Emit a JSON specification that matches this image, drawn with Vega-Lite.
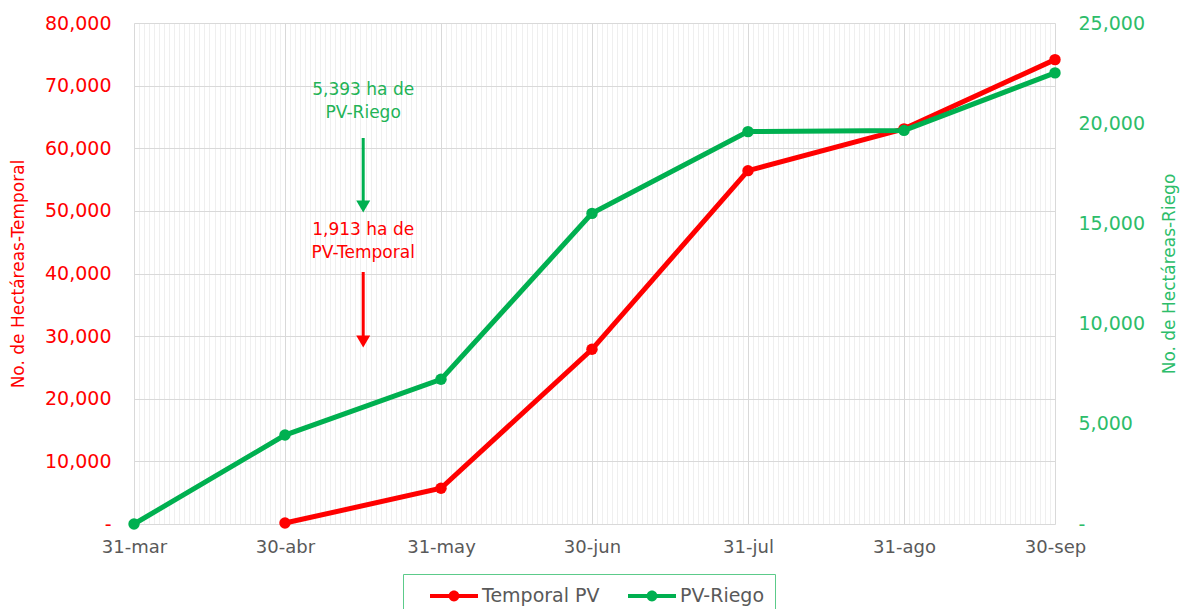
{
  "$schema": "https://vega.github.io/schema/vega-lite/v6.json",
  "width": 921,
  "height": 501,
  "autosize": "none",
  "padding": {"left": 134, "top": 23, "right": 126, "bottom": 85},
  "background": "white",
  "config": {"font": "DejaVu Sans", "view": {"stroke": null}},
  "datasets": {
    "temporal": [
      {"date": "2023-04-30T00:00", "value": 150},
      {"date": "2023-05-31T00:00", "value": 5700},
      {"date": "2023-06-30T00:00", "value": 27900},
      {"date": "2023-07-31T00:00", "value": 56420},
      {"date": "2023-08-31T00:00", "value": 63100},
      {"date": "2023-09-30T00:00", "value": 74150}
    ],
    "riego": [
      {"date": "2023-03-31T00:00", "value": 0},
      {"date": "2023-04-30T00:00", "value": 4440},
      {"date": "2023-05-31T00:00", "value": 7220},
      {"date": "2023-06-30T00:00", "value": 15500},
      {"date": "2023-07-31T00:00", "value": 19580},
      {"date": "2023-08-31T00:00", "value": 19640},
      {"date": "2023-09-30T00:00", "value": 22510}
    ],
    "notes": [
      {"series": "PV-Riego", "date": "2023-05-15T13:00", "value": 69300, "label": "5,393 ha de"},
      {"series": "PV-Riego", "date": "2023-05-15T13:00", "value": 65630, "label": "PV-Riego"},
      {"series": "Temporal PV", "date": "2023-05-15T13:00", "value": 46950, "label": "1,913 ha de"},
      {"series": "Temporal PV", "date": "2023-05-15T13:00", "value": 43270, "label": "PV-Temporal"}
    ],
    "arrows": [
      {"series": "PV-Riego", "date": "2023-05-15T13:00", "start": 61640, "end": 50700},
      {"series": "Temporal PV", "date": "2023-05-15T13:00", "start": 40240, "end": 29140}
    ]
  },
  "layer": [
    {
      "layer": [
        {
          "data": {"name": "temporal"},
          "mark": {"type": "line", "strokeWidth": 5, "point": {"size": 130, "filled": true}},
          "encoding": {
            "x": {
              "field": "date", "type": "temporal", "title": null,
              "scale": {"domain": [{"year": 2023, "month": 3, "date": 31}, {"year": 2023, "month": 9, "date": 30}]},
              "axis": {"tickCount": {"interval": "day", "step": 1}, "labels": false, "ticks": false, "domain": false, "grid": true, "gridColor": "#efefef", "gridWidth": 1, "orient": "bottom"}
            },
            "y": {
              "field": "value", "type": "quantitative", "title": "No. de Hectáreas-Temporal",
              "scale": {"domain": [0, 80000]},
              "axis": {"orient": "left", "values": [0, 10000, 20000, 30000, 40000, 50000, 60000, 70000, 80000], "format": ",.0f", "labelExpr": "datum.value == 0 ? '-\u00a0\u00a0' : datum.label", "labelColor": "#ff0000", "labelFontSize": 19, "labelPadding": 23, "ticks": false, "domain": false, "grid": true, "gridColor": "#d9d9d9", "titleColor": "#ff0000", "titleFontSize": 17, "titleFontWeight": "normal", "titlePadding": 17}
            },
            "color": {
              "datum": "Temporal PV", "type": "nominal",
              "scale": {"domain": ["Temporal PV", "PV-Riego"], "range": ["#ff0000", "#00b050"]},
              "legend": {
                "orient": "none", "legendX": 269, "legendY": 551, "direction": "horizontal", "title": null,
                "symbolType": "M-2,-0.16L2,-0.16L2,0.16L-2,0.16Z M0.45,0A0.45,0.45 0 1,1 -0.45,0A0.45,0.45 0 1,1 0.45,0Z",
                "symbolSize": 576, "symbolStrokeWidth": 0, "symbolOffset": 29,
                "labelFontSize": 19, "labelColor": "#595959", "labelOffset": 16,
                "strokeColor": "#5ccb8a", "padding": 10, "columnPadding": 11,
                "encode": {"symbols": {"update": {"fill": {"scale": "color", "field": "value"}, "fillOpacity": {"value": 1}, "strokeWidth": {"value": 0}}}}
              }
            }
          }
        },
        {
          "data": {"name": "notes"},
          "transform": [{"filter": "datum.series == 'PV-Riego'"}],
          "mark": {"type": "text", "color": "#22b356", "fontSize": 17, "align": "center", "baseline": "middle"},
          "encoding": {
            "x": {"field": "date", "type": "temporal", "title": null},
            "y": {"field": "value", "type": "quantitative", "title": "No. de Hectáreas-Temporal"},
            "text": {"field": "label"}
          }
        },
        {
          "data": {"name": "notes"},
          "transform": [{"filter": "datum.series == 'Temporal PV'"}],
          "mark": {"type": "text", "color": "#ff0000", "fontSize": 17, "align": "center", "baseline": "middle"},
          "encoding": {
            "x": {"field": "date", "type": "temporal", "title": null},
            "y": {"field": "value", "type": "quantitative", "title": "No. de Hectáreas-Temporal"},
            "text": {"field": "label"}
          }
        },
        {
          "data": {"name": "arrows"},
          "transform": [{"filter": "datum.series == 'PV-Riego'"}],
          "mark": {"type": "rule", "color": "#00b050", "strokeWidth": 3},
          "encoding": {
            "x": {"field": "date", "type": "temporal", "title": null},
            "y": {"field": "start", "type": "quantitative", "title": "No. de Hectáreas-Temporal"},
            "y2": {"field": "end"}
          }
        },
        {
          "data": {"name": "arrows"},
          "transform": [{"filter": "datum.series == 'PV-Riego'"}],
          "mark": {"type": "point", "shape": "triangle-down", "filled": true, "opacity": 1, "color": "#00b050", "size": 196},
          "encoding": {
            "x": {"field": "date", "type": "temporal", "title": null},
            "y": {"field": "end", "type": "quantitative", "title": "No. de Hectáreas-Temporal"}
          }
        },
        {
          "data": {"name": "arrows"},
          "transform": [{"filter": "datum.series == 'Temporal PV'"}],
          "mark": {"type": "rule", "color": "#ff0000", "strokeWidth": 3},
          "encoding": {
            "x": {"field": "date", "type": "temporal", "title": null},
            "y": {"field": "start", "type": "quantitative", "title": "No. de Hectáreas-Temporal"},
            "y2": {"field": "end"}
          }
        },
        {
          "data": {"name": "arrows"},
          "transform": [{"filter": "datum.series == 'Temporal PV'"}],
          "mark": {"type": "point", "shape": "triangle-down", "filled": true, "opacity": 1, "color": "#ff0000", "size": 196},
          "encoding": {
            "x": {"field": "date", "type": "temporal", "title": null},
            "y": {"field": "end", "type": "quantitative", "title": "No. de Hectáreas-Temporal"}
          }
        }
      ]
    },
    {
      "data": {"name": "riego"},
      "mark": {"type": "line", "strokeWidth": 5, "point": {"size": 130, "filled": true}},
      "encoding": {
        "x": {
          "field": "date", "type": "temporal", "title": null,
          "axis": {
            "orient": "bottom",
            "values": [{"year": 2023, "month": 3, "date": 31}, {"year": 2023, "month": 4, "date": 30}, {"year": 2023, "month": 5, "date": 31}, {"year": 2023, "month": 6, "date": 30}, {"year": 2023, "month": 7, "date": 31}, {"year": 2023, "month": 8, "date": 31}, {"year": 2023, "month": 9, "date": 30}],
            "labelExpr": "timeFormat(datum.value, '%d') + '-' + ['ene','feb','mar','abr','may','jun','jul','ago','sep','oct','nov','dic'][month(datum.value)]",
            "labelColor": "#595959", "labelFontSize": 18, "labelPadding": 14, "ticks": false, "domain": false,
            "grid": true, "gridColor": "#d9d9d9", "labelFlush": false
          }
        },
        "y": {
          "field": "value", "type": "quantitative", "title": "No. de Hectáreas-Riego",
          "scale": {"domain": [0, 25000]},
          "axis": {"orient": "right", "values": [0, 5000, 10000, 15000, 20000, 25000], "format": ",.0f", "labelExpr": "datum.value == 0 ? '\u00a0-' : datum.label", "labelColor": "#2dbd6a", "labelFontSize": 19, "labelPadding": 23, "ticks": false, "domain": false, "grid": false, "titleColor": "#2dbd6a", "titleFontSize": 17, "titleFontWeight": "normal", "titlePadding": 34, "titleAngle": 270}
        },
        "color": {"datum": "PV-Riego", "type": "nominal"}
      }
    }
  ],
  "resolve": {"scale": {"y": "independent"}, "axis": {"x": "independent"}}
}
